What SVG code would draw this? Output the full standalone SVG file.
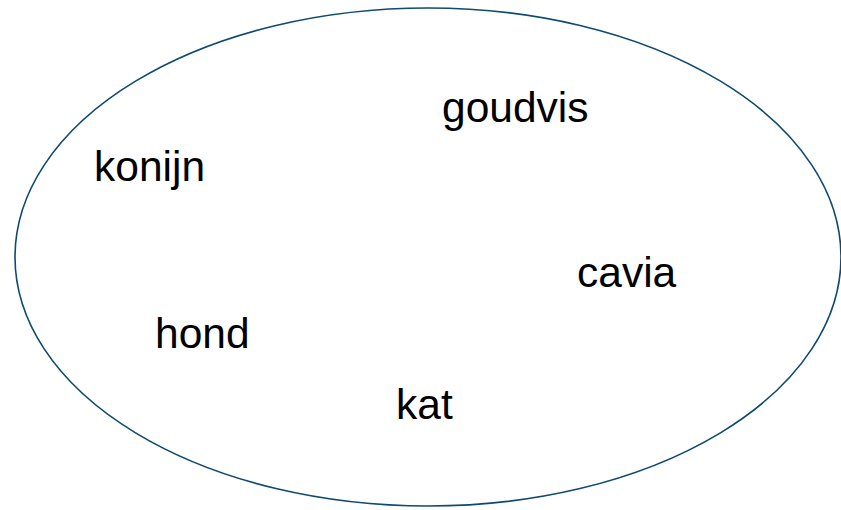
<svg xmlns="http://www.w3.org/2000/svg" width="841" height="510" viewBox="0 0 841 510">
<style>
.t{font-family:"Liberation Sans",Arial,sans-serif;font-size:42.5px;fill:#000}
</style>
<rect width="841" height="510" fill="#fff"/>
<g id="set"><ellipse cx="428" cy="257" rx="413" ry="249" fill="none" stroke="#0e4a72" stroke-width="1.6"/></g>
<g id="connectors"/>
<g id="goudvis"><text class="t" x="442" y="122">goudvis</text></g>
<g id="konijn"><text class="t" x="94" y="181">konijn</text></g>
<g id="cavia"><text class="t" x="577" y="287">cavia</text></g>
<g id="hond"><text class="t" x="155" y="348">hond</text></g>
<g id="kat"><text class="t" x="396" y="419">kat</text></g>
</svg>
